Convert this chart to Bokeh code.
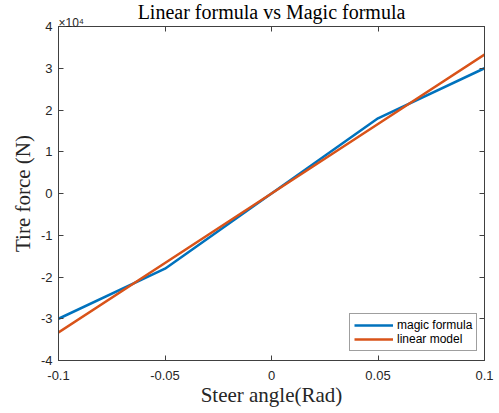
from bokeh.plotting import figure
from bokeh.models import LinearAxis, FixedTicker, Title, Legend, LegendItem, Range1d
from bokeh.embed import file_html
from bokeh.resources import INLINE

# data
steer = [-0.1, -0.05, 0.0, 0.05, 0.1]
magic_force = [-30000, -18000, 0, 18000, 30000]
linear_force = [-33300, -16650, 0, 16650, 33300]

x_ticks = [-0.1, -0.05, 0, 0.05, 0.1]
x_tick_labels = ["-0.1", "-0.05", "0", "0.05", "0.1"]
y_ticks = [-40000, -30000, -20000, -10000, 0, 10000, 20000, 30000, 40000]
y_tick_labels = ["-4", "-3", "-2", "-1", "0", "1", "2", "3", "4"]
multiplier = "×10⁴"
title_text = "Linear formula vs Magic formula"

AX = "#404040"
SANS = "Liberation Sans"
SERIF = "Liberation Serif"

p = figure(frame_width=426, frame_height=334,
           x_range=Range1d(-0.1, 0.1), y_range=Range1d(-40000, 40000),
           output_backend="svg", toolbar_location=None,
           x_axis_label="Steer angle(Rad)", y_axis_label="Tire force (N)",
           min_border_left=58, min_border_right=15, min_border_top=0, min_border_bottom=0)
p.background_fill_color = "white"
p.border_fill_color = "white"
p.outline_line_color = AX
p.grid.visible = False

def style_axis(ax, show_labels=True):
    ax.axis_line_color = AX
    ax.major_tick_line_color = AX
    ax.major_tick_in = 5
    ax.major_tick_out = 0
    ax.minor_tick_line_color = None
    ax.major_label_text_font = SANS
    ax.major_label_text_color = "#262626"
    ax.axis_label_text_font = SERIF
    ax.axis_label_text_font_style = "normal"
    ax.axis_label_text_font_size = "21px"
    ax.axis_label_text_color = "#262626"
    if show_labels:
        ax.major_label_text_font_size = "13px"
    else:
        ax.major_label_text_font_size = "1px"
        ax.major_label_text_color = None
        ax.major_label_standoff = 0

xa = p.xaxis[0]
xa.ticker = FixedTicker(ticks=x_ticks)
xa.major_label_overrides = {t: l for t, l in zip(x_ticks, x_tick_labels)}
style_axis(xa)
xa.major_label_standoff = 10
xa.axis_label_standoff = 0

ya = p.yaxis[0]
ya.ticker = FixedTicker(ticks=y_ticks)
ya.major_label_overrides = {t: l for t, l in zip(y_ticks, y_tick_labels)}
style_axis(ya)
ya.major_label_standoff = 6
ya.axis_label_standoff = 3

top = LinearAxis(ticker=FixedTicker(ticks=x_ticks))
style_axis(top, show_labels=False)
p.add_layout(top, "above")
right = LinearAxis(ticker=FixedTicker(ticks=y_ticks))
style_axis(right, show_labels=False)
p.add_layout(right, "right")

mult_title = Title(text=multiplier, align="left", vertical_align="top",
                   standoff=-10, offset=0, text_font=SANS, text_font_size="12px",
                   text_font_style="normal", text_color="#262626")
p.add_layout(mult_title, "above")
main_title = Title(text=title_text, align="center", vertical_align="bottom",
                   standoff=-4, offset=0, text_font=SERIF, text_font_size="20px",
                   text_font_style="normal", text_color="black")
p.add_layout(main_title, "above")

r1 = p.line(steer, magic_force, line_color="#0072BD", line_width=2.5)
r2 = p.line(steer, linear_force, line_color="#D95319", line_width=2.5)

legend = Legend(items=[LegendItem(label="magic formula", renderers=[r1]),
                       LegendItem(label="linear model", renderers=[r2])],
                location=(291, 9))
legend.label_text_font = SANS
legend.label_text_font_size = "12px"
legend.label_text_color = "black"
legend.glyph_width = 39
legend.glyph_height = 14
legend.label_height = 14
legend.spacing = 0
legend.padding = 4
legend.margin = 0
legend.label_standoff = 4
legend.border_line_color = AX
legend.border_line_width = 1
p.add_layout(legend, "center")

open("out.html", "w").write(file_html(p, INLINE))
